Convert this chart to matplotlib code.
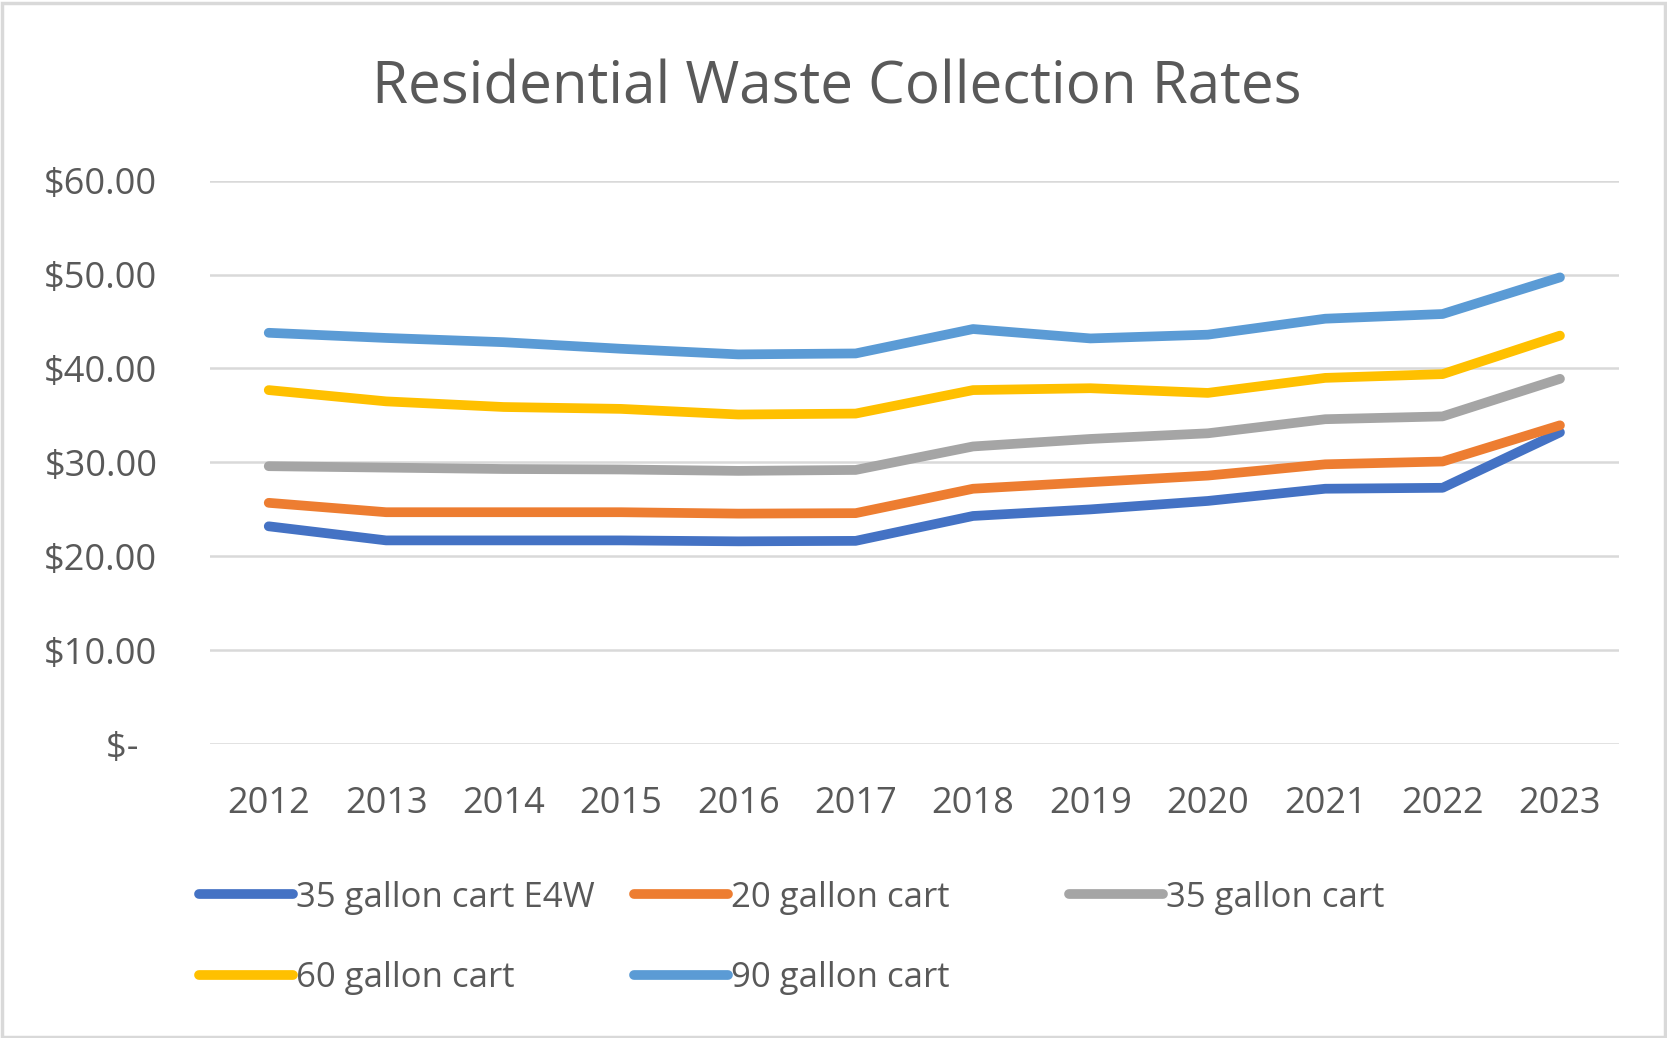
import matplotlib.pyplot as plt
from matplotlib.lines import Line2D
from matplotlib.patches import Rectangle

plt.rcParams['font.family'] = ['Open Sans', 'DejaVu Sans']

years = list(range(2012, 2024))
e4w_35 = [23.2, 21.7, 21.7, 21.7, 21.6, 21.65, 24.3, 25.0, 25.9, 27.2, 27.3, 33.2]
cart_20 = [25.7, 24.7, 24.7, 24.7, 24.55, 24.6, 27.2, 27.9, 28.6, 29.8, 30.1, 33.95]
cart_35 = [29.6, 29.45, 29.3, 29.25, 29.1, 29.2, 31.7, 32.5, 33.1, 34.6, 34.9, 38.9]
cart_60 = [37.7, 36.5, 35.9, 35.7, 35.1, 35.2, 37.7, 37.9, 37.4, 39.0, 39.4, 43.5]
cart_90 = [43.8, 43.25, 42.8, 42.1, 41.5, 41.6, 44.2, 43.2, 43.6, 45.3, 45.8, 49.7]

names = ['35 gallon cart E4W', '20 gallon cart', '35 gallon cart', '60 gallon cart', '90 gallon cart']
series = [e4w_35, cart_20, cart_35, cart_60, cart_90]
colors = ['#4472C4', '#ED7D31', '#A5A5A5', '#FFC000', '#5B9BD5']

yticks = [0, 10, 20, 30, 40, 50, 60]
ylabels = ['$-  ', '$10.00', '$20.00', '$30.00', '$40.00', '$50.00', '$60.00']

txt = '#595959'
fig = plt.figure(figsize=(16.67, 10.38), dpi=100)
ax = fig.add_axes([0.126, 0.283, 0.845, 0.543])

for vals, c in zip(series, colors):
    ax.plot(years, vals, color=c, lw=7, solid_capstyle='round', solid_joinstyle='round', zorder=3)

ax.set_xlim(2011.5, 2023.5)
ax.set_ylim(0, 60)
ax.set_xticks(years)
ax.set_xticklabels([str(y) for y in years])
ax.set_yticks(yticks)
ax.set_yticklabels(ylabels)
ax.tick_params(length=0, labelsize=26, labelcolor=txt)
ax.tick_params(axis='x', pad=30)
ax.tick_params(axis='y', pad=38)
ax.grid(axis='y', color='#d9d9d9', lw=1.8)
ax.set_axisbelow(True)
for s in ax.spines.values():
    s.set_visible(False)

fig.text(0.502, 0.915, 'Residential Waste Collection Rates', ha='center', va='center',
         fontsize=42, color=txt)

# legend laid out row by row like the original
handles = [Line2D([], [], color=c, lw=7, solid_capstyle='round') for c in colors]
cols = [[0, 3], [1, 4], [2]]
xs = [0.111, 0.372, 0.633]
for idx, x in zip(cols, xs):
    fig.legend([handles[i] for i in idx], [names[i] for i in idx], loc='upper left',
               bbox_to_anchor=(x, 0.165), frameon=False, fontsize=25, labelcolor=txt,
               handlelength=2.7, handletextpad=0.1, labelspacing=1.35, borderaxespad=0)

fig.patches.append(Rectangle((0.001, 0.001), 0.998, 0.996, transform=fig.transFigure,
                             fill=False, edgecolor='#d9d9d9', lw=2.5))

fig.savefig('out.png', dpi=100)
